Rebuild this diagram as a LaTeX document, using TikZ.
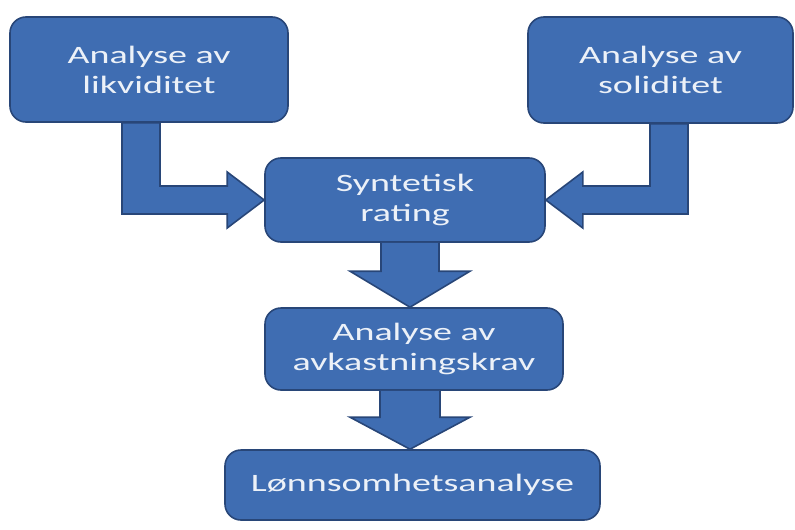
\documentclass[tikz,border=0pt]{standalone}
\usepackage{fontspec}
\usepackage{tikz}
\usetikzlibrary{calc}
\newfontfamily\boxfont[FakeStretch=1.52]{Carlito}
\definecolor{boxblue}{RGB}{63,109,178}
\definecolor{boxedge}{RGB}{40,70,120}
\definecolor{boxtext}{RGB}{236,241,248}

\begin{document}
\begin{tikzpicture}[x=1pt,y=1pt]
    \tikzstyle{every node}+=[inner sep=0pt]
    \tikzstyle{flowbox}=[draw=boxedge, fill=boxblue, line width=1.6pt, rounded corners=16pt,
        text=boxtext, align=center, font=\boxfont\fontsize{25}{30}\selectfont]
    \tikzstyle{bigarrow}=[draw=boxedge, fill=boxblue, line width=1.6pt, line join=miter]
    \useasboundingbox (0,0) rectangle (795,-530);
    % boxes
    \node [flowbox, minimum width=278pt, minimum height=105pt] (likv) at (149,-69.5) {Analyse av\\likviditet};
    \node [flowbox, minimum width=265pt, minimum height=106pt] (solid) at (660.5,-70) {Analyse av\\soliditet};
    \node [flowbox, minimum width=280pt, minimum height=84pt] (synt) at (405,-200) {Syntetisk\\rating};
    \node [flowbox, minimum width=298pt, minimum height=82pt] (avk) at (414,-349) {Analyse av\\avkastningskrav};
    \node [flowbox, minimum width=375pt, minimum height=70pt] (lonn) at (412.5,-485) {L{\o}nnsomhetsanalyse};
    % likviditet -> rating
    \draw [bigarrow] let \p1=(likv.south), \p2=(synt.west) in
        (\x1-27pt,\y1) -- (\x1+11pt,\y1) -- (\x1+11pt,\y2+14pt) -- (\x2-37pt,\y2+14pt)
        -- (\x2-37pt,\y2+28pt) -- (\p2) -- (\x2-37pt,\y2-28pt) -- (\x2-37pt,\y2-14pt)
        -- (\x1-27pt,\y2-14pt) -- cycle;
    % soliditet -> rating
    \draw [bigarrow] let \p1=(solid.south), \p2=(synt.east) in
        (\x1+27.5pt,\y1) -- (\x1-10.5pt,\y1) -- (\x1-10.5pt,\y2+14pt) -- (\x2+37pt,\y2+14pt)
        -- (\x2+37pt,\y2+28pt) -- (\p2) -- (\x2+37pt,\y2-28pt) -- (\x2+37pt,\y2-14pt)
        -- (\x1+27.5pt,\y2-14pt) -- cycle;
    % rating -> avkastningskrav
    \draw [bigarrow] let \p1=(synt.south), \p2=(avk.north) in
        (\x2-33pt,\y1) -- (\x2-33pt,\y2+36pt) -- (\x2-64pt,\y2+36pt) -- (\x2-4pt,\y2)
        -- (\x2+56pt,\y2+36pt) -- (\x2+25pt,\y2+36pt) -- (\x2+25pt,\y1);
    % avkastningskrav -> lonnsomhet
    \draw [bigarrow] let \p1=(avk.south), \p2=(lonn.north) in
        (\x2-32.5pt,\y1) -- (\x2-32.5pt,\y2+32pt) -- (\x2-62.5pt,\y2+32pt) -- (\x2-2.5pt,\y2)
        -- (\x2+57.5pt,\y2+32pt) -- (\x2+27.5pt,\y2+32pt) -- (\x2+27.5pt,\y1);
\end{tikzpicture}
\end{document}
